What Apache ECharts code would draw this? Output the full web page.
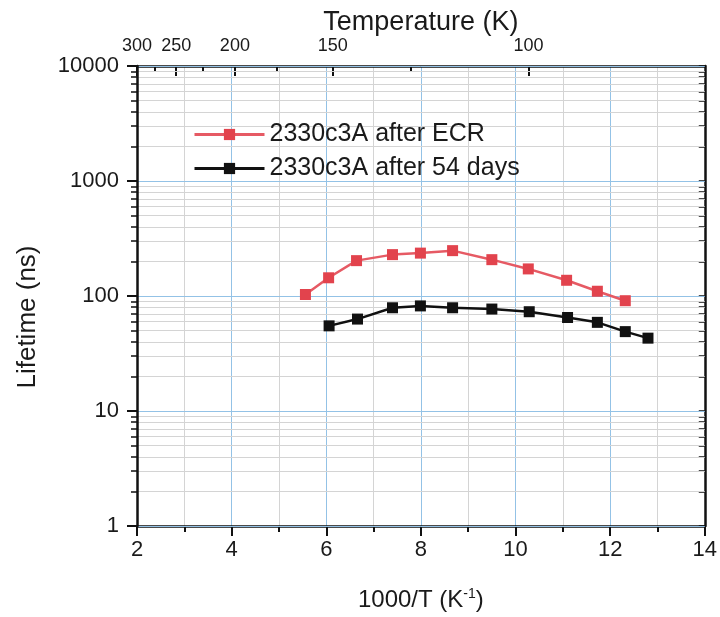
<!DOCTYPE html>
<html>
<head>
<meta charset="utf-8">
<script src="https://cdn.jsdelivr.net/npm/echarts@6/dist/echarts.min.js"></script>
<style>
html,body{margin:0;padding:0;background:#fff;}
#c{width:720px;height:617px;}
</style>
</head>
<body>
<div id="c"></div>
<script>
// ---- data ----
const seriesNames = ['2330c3A after ECR', '2330c3A after 54 days'];
const xRed = [5.56, 6.05, 6.64, 7.40, 7.99, 8.67, 9.50, 10.27, 11.08, 11.73, 12.32];
const yRed = [103, 144, 203, 229, 236, 248, 207, 172, 137, 110, 91];
const xBlack = [6.06, 6.66, 7.40, 7.99, 8.67, 9.50, 10.29, 11.10, 11.73, 12.32, 12.80];
const yBlack = [55, 63, 79, 82, 79, 77, 73, 65, 59, 49, 43];
const tempMajor = [300, 250, 200, 150, 100];
const tempMinor = [275, 225, 175, 125];
const yMinorMult = [2, 3, 4, 5, 6, 7, 8, 9];
const yDecades = [1, 10, 100, 1000];

const yMinor = [];
yDecades.forEach(d => yMinorMult.forEach(m => yMinor.push(d * m)));
const yAll = [1, 10, 100, 1000, 10000].concat(yMinor);

const FONT = '"Liberation Sans", Arial, sans-serif';
const RED = '#e2434d', REDLINE = '#e65a64', BLK = '#111111';
const BLUE = '#93c2e6', GREY = '#d4d4d4';
const topMin = 1000 / 300, topMax = 13;

const chart = echarts.init(document.getElementById('c'));
chart.setOption({
  animation: false,
  backgroundColor: '#ffffff',
  textStyle: { fontFamily: FONT, color: '#1a1a1a' },
  grid: { left: 137, right: 13, top: 66, bottom: 90, containLabel: false },
  legend: {
    data: seriesNames,
    orient: 'vertical',
    left: 188, top: 117,
    itemWidth: 70, itemHeight: 14, itemGap: 9,
    lineStyle: { width: 3 },
    textStyle: { fontSize: 25, fontFamily: FONT, color: '#1a1a1a', lineHeight: 24 }
  },
  xAxis: [
    {
      type: 'value', position: 'bottom', min: 2, max: 14, interval: 2,
      name: '1000/T (K{sup|-1})', nameLocation: 'middle', nameGap: 61,
      nameTextStyle: { fontSize: 24, fontFamily: FONT, color: '#1a1a1a',
        rich: { sup: { fontSize: 14, verticalAlign: 'top', padding: [0, 0, 12, 0], fontFamily: FONT, color: '#1a1a1a' } } },
      axisLine: { show: true, onZero: false, lineStyle: { color: '#111', width: 2.5 } },
      axisTick: { show: true, inside: false, length: 10, lineStyle: { color: '#111', width: 2 } },
      minorTick: { show: true, splitNumber: 2, length: 6, lineStyle: { color: '#111', width: 2 } },
      axisLabel: { fontSize: 22, fontFamily: FONT, color: '#1a1a1a', margin: 13 },
      splitLine: { show: true, lineStyle: { color: BLUE, width: 1 } },
      minorSplitLine: { show: true, lineStyle: { color: GREY, width: 1 } }
    },
    {
      type: 'value', position: 'top', min: topMin, max: topMax,
      name: 'Temperature (K)', nameLocation: 'middle', nameGap: 30, nameMoveOverlap: false,
      nameTextStyle: { fontSize: 27, fontFamily: FONT, color: '#1a1a1a' },
      axisLine: { show: true, onZero: false, lineStyle: { color: '#111', width: 2.5 } },
      axisTick: { show: true, inside: true, length: 10, lineStyle: { color: '#111', width: 2 },
        customValues: tempMajor.map(t => 1000 / t) },
      axisLabel: { show: true, fontSize: 18, fontFamily: FONT, color: '#1a1a1a', margin: 11,
        customValues: tempMajor.map(t => 1000 / t),
        formatter: v => String(Math.round(1000 / v)) },
      splitLine: { show: false }
    },
    {
      type: 'value', position: 'top', min: topMin, max: topMax,
      axisLine: { show: false },
      axisTick: { show: true, inside: true, length: 6, lineStyle: { color: '#111', width: 2 },
        customValues: tempMinor.map(t => 1000 / t) },
      axisLabel: { show: false, customValues: tempMinor.map(t => 1000 / t) },
      splitLine: { show: false }
    }
  ],
  yAxis: [
    {
      type: 'log', logBase: 10, min: 1, max: 10000, position: 'left',
      axisLine: { show: true, onZero: false, lineStyle: { color: '#111', width: 2.5 } },
      axisTick: { show: true, inside: false, length: 10, lineStyle: { color: '#111', width: 2 } },
      axisLabel: { fontSize: 22, fontFamily: FONT, color: '#1a1a1a', margin: 18,
        formatter: v => String(Math.round(v)) },
      splitLine: { show: true, lineStyle: { color: BLUE, width: 1 } },
      z: 3
    },
    {
      type: 'log', logBase: 10, min: 1, max: 10000, position: 'left',
      axisLine: { show: false },
      axisTick: { show: true, inside: false, length: 6, lineStyle: { color: '#111', width: 1.5 },
        customValues: yMinor },
      axisLabel: { show: false, customValues: yMinor },
      splitLine: { show: true, lineStyle: { color: GREY, width: 1 } },
      z: 1
    },
    {
      type: 'log', logBase: 10, min: 1, max: 10000, position: 'right',
      axisLine: { show: true, onZero: false, lineStyle: { color: '#111', width: 2.5 } },
      axisTick: { show: true, inside: true, length: 6, lineStyle: { color: '#111', width: 1.5 },
        customValues: yAll },
      axisLabel: { show: false, customValues: yAll },
      splitLine: { show: false }
    }
  ],
  graphic: [
    {
      type: 'text', x: 28, y: 317, rotation: Math.PI / 2,
      style: { text: 'Lifetime (ns)', fontSize: 26, fontFamily: FONT, fill: '#1a1a1a',
        align: 'center', verticalAlign: 'middle' }
    }
  ],
  series: [
    {
      name: seriesNames[0], type: 'line', xAxisIndex: 0, yAxisIndex: 0,
      data: xRed.map((x, i) => [x, yRed[i]]),
      symbol: 'rect', symbolSize: 11,
      itemStyle: { color: RED },
      lineStyle: { color: REDLINE, width: 2.5 },
      z: 10
    },
    {
      name: seriesNames[1], type: 'line', xAxisIndex: 0, yAxisIndex: 0,
      data: xBlack.map((x, i) => [x, yBlack[i]]),
      symbol: 'rect', symbolSize: 11,
      itemStyle: { color: BLK },
      lineStyle: { color: BLK, width: 2.5 },
      z: 10
    }
  ]
});
</script>
</body>
</html>
